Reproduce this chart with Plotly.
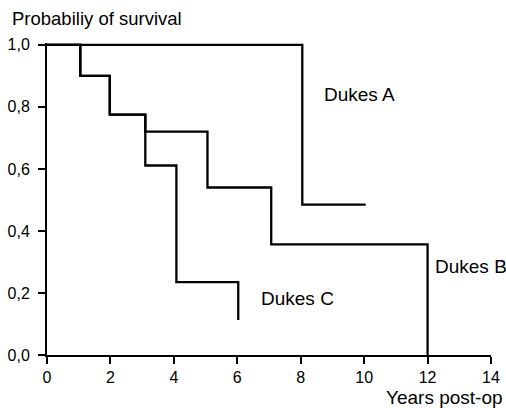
import plotly.graph_objects as go

# Kaplan-Meier style survival curves (years post-op, probability of survival)
dukes_a_years = [0, 8.05, 10.05]
dukes_a_surv = [1.0, 0.485, 0.485]

dukes_b_years = [0, 1.05, 1.98, 3.1, 5.06, 7.07, 12.0]
dukes_b_surv = [1.0, 0.90, 0.775, 0.72, 0.54, 0.357, 0.0]

dukes_c_years = [0, 1.05, 1.98, 3.1, 4.08, 6.03]
dukes_c_surv = [1.0, 0.90, 0.775, 0.611, 0.235, 0.113]

x_ticks = [0, 2, 4, 6, 8, 10, 12, 14]
y_ticks = [0.0, 0.2, 0.4, 0.6, 0.8, 1.0]
y_tick_labels = ["0,0", "0,2", "0,4", "0,6", "0,8", "1,0"]

FONT = "Liberation Sans, Arial, Helvetica, sans-serif"
line_style = dict(color="black", width=2.3, shape="hv")

fig = go.Figure()
for xs, ys in [(dukes_a_years, dukes_a_surv), (dukes_b_years, dukes_b_surv), (dukes_c_years, dukes_c_surv)]:
    fig.add_trace(go.Scatter(x=xs, y=ys, mode="lines", line=line_style,
                             hoverinfo="skip", showlegend=False))

# curve labels (data coordinates, inside the axis ranges)
for text, x, y in [("Dukes A", 8.68, 0.839), ("Dukes B", 12.17, 0.285), ("Dukes C", 6.7, 0.181)]:
    fig.add_annotation(text=text, x=x, y=y, xref="x", yref="y", xanchor="left", yanchor="middle",
                       showarrow=False, font=dict(family=FONT, size=19, color="black"))

# axis titles (paper coordinates)
fig.add_annotation(text="Probabiliy of survival", x=-0.083, y=1.08, xref="paper", yref="paper",
                   xanchor="left", yanchor="middle", showarrow=False,
                   font=dict(family=FONT, size=18.5, color="black"))
fig.add_annotation(text="Years post-op", x=1.032, y=-0.137, xref="paper", yref="paper",
                   xanchor="right", yanchor="middle", showarrow=False,
                   font=dict(family=FONT, size=19, color="black"))

fig.update_layout(
    width=506, height=408,
    margin=dict(l=47, r=15, t=43, b=53, autoexpand=False),
    paper_bgcolor="white", plot_bgcolor="white",
    font=dict(family=FONT, color="black"),
    xaxis=dict(range=[0, 14], tickvals=x_ticks, ticktext=[str(v) for v in x_ticks],
               showgrid=False, zeroline=False, showline=True, linecolor="black", linewidth=2,
               ticks="outside", ticklen=7, tickwidth=2, tickcolor="black", automargin=False,
               tickfont=dict(size=16, family=FONT, color="black"), fixedrange=True),
    yaxis=dict(range=[0, 1.006], tickvals=y_ticks, ticktext=y_tick_labels,
               showgrid=False, zeroline=False, showline=True, linecolor="black", linewidth=2,
               ticks="outside", ticklen=7, tickwidth=2, tickcolor="black", ticklabelstandoff=5,
               automargin=False,
               tickfont=dict(size=16, family=FONT, color="black"), fixedrange=True),
)

fig.write_html("out.html", config={"displayModeBar": False},
               post_script="document.body.style.margin='0';document.body.style.overflow='hidden';")
